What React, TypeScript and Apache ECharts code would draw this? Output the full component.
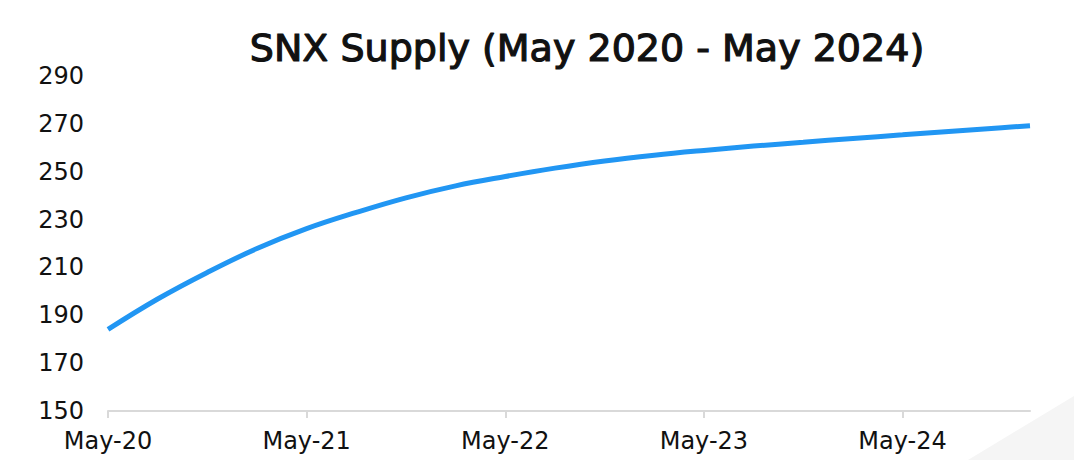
import React, { useEffect, useRef } from "react";
import * as echarts from "echarts";

// month index since May 2020 and SNX supply (millions)
const monthIndex = [0, 3, 6, 9, 12, 15, 18, 21, 24, 27, 30, 33, 36, 39, 42, 45, 48, 51, 54, 55.7];
const supply = [184.1, 196.8, 207.9, 217.9, 226.2, 233.0, 239.1, 244.1, 248.0, 251.5, 254.5, 256.9, 258.9, 260.7, 262.3, 263.9, 265.4, 266.9, 268.4, 269.2];
const xTickLabels = ["May-20", "May-21", "May-22", "May-23", "May-24"];
const titleText = "SNX Supply (May 2020 - May 2024)";

export default function App() {
  const ref = useRef<HTMLDivElement>(null);
  useEffect(() => {
    document.body.style.margin = "0";
    const chart = echarts.init(ref.current!, null, { renderer: "svg" });
    const font = "DejaVu Sans";
    chart.setOption({
      animation: false,
      backgroundColor: "#ffffff",
      title: {
        text: titleText,
        left: 582,
        textAlign: "center",
        top: 24,
        textStyle: {
          fontFamily: font,
          fontSize: 38,
          fontWeight: "normal",
          color: "#111111",
          textBorderColor: "#111111",
          textBorderWidth: 1.2,
        },
      },
      graphic: [
        {
          type: "polygon",
          shape: { points: [[968, 460], [1074, 396], [1074, 460]] },
          style: { fill: "#f5f5f5" },
          silent: true,
          z: -10,
        },
      ],
      grid: { left: 108, right: 44, top: 76, bottom: 49 },
      xAxis: {
        type: "value",
        min: 0,
        max: 55.7,
        interval: 12,
        axisLine: { show: true, lineStyle: { color: "#d9d9d9", width: 2 } },
        axisTick: { show: true, length: 7, lineStyle: { color: "#d9d9d9", width: 2 } },
        splitLine: { show: false },
        axisLabel: {
          fontFamily: font,
          fontSize: 24,
          color: "#111111",
          margin: 18,
          showMaxLabel: false,
          formatter: (v: number) => xTickLabels[Math.round(v / 12)] ?? "",
        },
      },
      yAxis: {
        type: "value",
        min: 150,
        max: 290,
        interval: 20,
        axisLine: { show: false },
        axisTick: { show: false },
        splitLine: { show: false },
        axisLabel: { fontFamily: font, fontSize: 24, color: "#111111", margin: 24 },
      },
      series: [
        {
          type: "line",
          data: monthIndex.map((m, i) => [m, supply[i]]),
          smooth: 0.4,
          showSymbol: false,
          lineStyle: { color: "#2196F3", width: 5 },
        },
      ],
    });
    return () => chart.dispose();
  }, []);
  return <div ref={ref} style={{ width: 1074, height: 460 }} />;
}
